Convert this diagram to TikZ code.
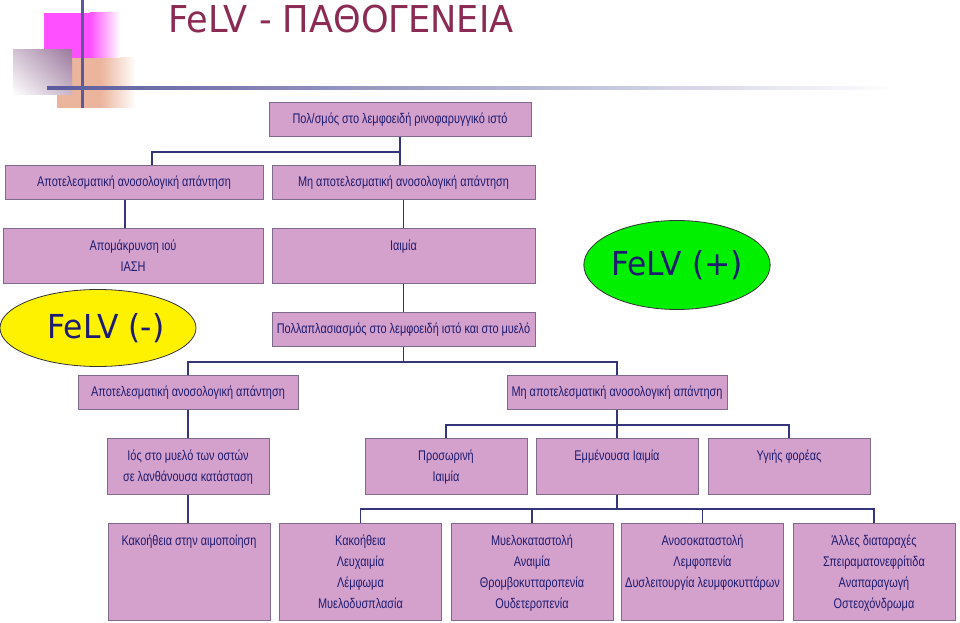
\documentclass[tikz,border=0pt]{standalone}
\usepackage{fontspec}
\setmainfont{Liberation Sans}
\newfontfamily\narrowfont[FakeStretch=0.78]{Liberation Sans}
\newfontfamily\headfont[FakeStretch=0.95]{DejaVu Sans}
\usepackage{xcolor}
\usepackage{tikz}
\usetikzlibrary{shapes.geometric, positioning, calc, shadings}

\definecolor{boxfill}{HTML}{D4A0CC}
\definecolor{boxline}{HTML}{7E6A8C}
\definecolor{ink}{HTML}{1E1C70}
\definecolor{wire}{HTML}{35357C}
\definecolor{titlered}{HTML}{8B2A52}
\definecolor{decomag}{HTML}{FF50FF}
\definecolor{decopeach}{HTML}{EBB49C}
\definecolor{decogrey}{HTML}{9C7A9E}
\definecolor{decoline}{HTML}{5A5A9C}
\definecolor{posgreen}{HTML}{00F000}

\newcommand\boxfont{\narrowfont\fontsize{10.5}{15.75}\selectfont}

\begin{document}
\begin{tikzpicture}[x=0.75pt, y=-0.75pt,
    cell/.style={draw=boxline, line width=0.75pt, fill=boxfill, text=ink, font=\boxfont, anchor=north, align=flush center, inner sep=0pt, minimum height=25.5pt},
    tall/.style={cell, text height=16.5pt, text depth=#1},
    wire/.style={draw=wire, line width=1pt},
    blob/.style={ellipse, draw=black!80, line width=0.6pt, text=ink, inner sep=0pt, font=\headfont\fontsize{24.75}{26}\selectfont}]
    \useasboundingbox (0,0) rectangle (960,623);

    % corner decoration
    \fill[decopeach] (57,58) rectangle (100,108);
    \shade[left color=decopeach, right color=white] (100,58) rectangle (136,108);
    \fill[decomag] (44,13) rectangle (90,58);
    \shade[left color=decomag, right color=white] (90,13) rectangle (120,58);
    \shade[upper right=decogrey, lower left=white, upper left=decogrey!45!white, lower right=decogrey!55!white] (13,50) rectangle (72,95);
    \fill[decoline] (81,0) rectangle (83.5,108);
    \shade[left color=decoline, middle color=decoline!55!white, right color=white] (47,87) rectangle (900,89.5);

    \node[anchor=base west, inner sep=0pt, text=titlered, font=\headfont\fontsize{27.75}{30}\selectfont] (title) at (168,33) {FeLV - ΠΑΘΟΓΕΝΕΙΑ};

    \node[cell, minimum width=196.5pt] (top) at (400,102) {Πολ/σμός στο λεμφοειδή ρινοφαρυγγικό ιστό};
    \node[cell, minimum width=193.5pt] (b2a) at (134,165) {Αποτελεσματική ανοσολογική απάντηση};
    \node[cell, minimum width=197.25pt] (b2b) at (403.5,165) {Μη αποτελεσματική ανοσολογική απάντηση};
    \node[tall=24.75pt, text width=195pt] (b3a) at (133,228) {Απομάκρυνση ιού\\ΙΑΣΗ};
    \node[tall=24.75pt, text width=197.25pt] (b3b) at (403.5,228) {Ιαιμία};
    \node[blob, fill=posgreen, minimum width=139.5pt, minimum height=66.75pt] (felvpos) at (677,265) {FeLV (+)};
    \node[blob, fill=yellow, minimum width=147pt, minimum height=57.75pt] (felvneg) at (98,328) {\hspace{12pt}FeLV (-)};
    \node[cell, minimum width=197.25pt] (b4) at (403.5,312) {Πολλαπλασιασμός στο λεμφοειδή ιστό και στο μυελό};

    \node[cell, minimum width=165pt] (b5a) at (188,375) {Αποτελεσματική ανοσολογική απάντηση};
    \node[cell, minimum width=165pt] (b5b) at (617,375) {Μη αποτελεσματική ανοσολογική απάντηση};

    \node[tall=25.5pt, text width=121.5pt] (b6a) at (188,438) {Ιός στο μυελό των οστών\\σε λανθάνουσα κατάσταση};
    \node[tall=25.5pt, text width=121.5pt] (b6b) at (446,438) {Προσωρινή\\Ιαιμία};
    \node[tall=25.5pt, text width=121.5pt] (b6c) at (617,438) {Εμμένουσα Ιαιμία};
    \node[tall=25.5pt, text width=121.5pt] (b6d) at (789,438) {Υγιής φορέας};

    \node[tall=56.25pt, text width=121.5pt] (b7a) at (189,523) {Κακοήθεια στην αιμοποίηση};
    \node[tall=56.25pt, text width=121.5pt] (b7b) at (360.5,523) {Κακοήθεια\\Λευχαιμία\\Λέμφωμα\\Μυελοδυσπλασία};
    \node[tall=56.25pt, text width=121.5pt] (b7c) at (532,523) {Μυελοκαταστολή\\Αναιμία\\Θρομβοκυτταροπενία\\Ουδετεροπενία};
    \node[tall=56.25pt, text width=121.5pt] (b7d) at (702.5,523) {Ανοσοκαταστολή\\Λεμφοπενία\\Δυσλειτουργία λευμφοκυττάρων};
    \node[tall=56.25pt, text width=121.5pt] (b7e) at (874,523) {Άλλες διαταραχές\\Σπειραματονεφρίτιδα\\Αναπαραγωγή\\Οστεοχόνδρωμα};

    % connectors
    \coordinate (j2a) at ($(b2a.south)+(-9,0)$);
    \draw[wire] (top.south) -- (top.south |- b2b.north);
    \draw[wire] ($(top.south)+(0,15)$) -| ($(b2a.north)+(18,0)$);
    \draw[wire] (j2a) -- (j2a |- b3a.north);
    \draw[wire] (b2b.south) -- (b3b.north);
    \draw[wire] (b3b.south) -- (b4.north);
    \foreach \c in {b5a,b5b}
        \draw[wire] (b4.south) -- ++(0,15) -| (\c.north);
    \draw[wire] (b5a.south) -- (b6a.north);
    \foreach \c in {b6b,b6c,b6d}
        \draw[wire] (b5b.south) -- ++(0,15) -| (\c.north);
    \draw[wire] (b6a.south) -- (b6a.south |- b7a.north);
    \foreach \c in {b7b,b7c,b7d,b7e}
        \draw[wire] (b6c.south) -- ++(0,14) -| (\c.north);
\end{tikzpicture}
\end{document}
